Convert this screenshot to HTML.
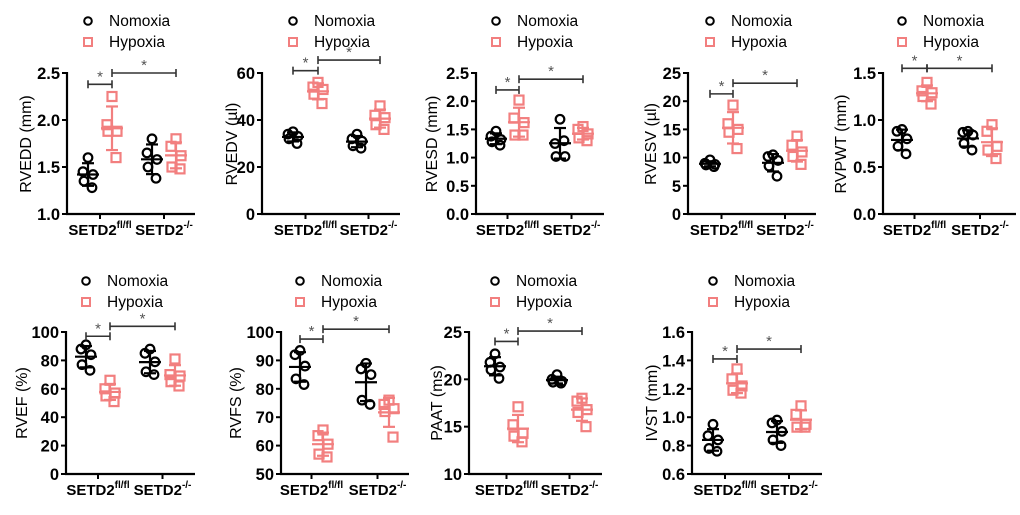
<!DOCTYPE html>
<html><head><meta charset="utf-8"><style>
body{margin:0;background:#fff;}
svg{display:block;font-family:"Liberation Sans",Arial,sans-serif;}
</style></head><body>
<svg id="fig" width="1020" height="515" viewBox="0 0 1020 515" xmlns="http://www.w3.org/2000/svg"></svg>
<script>
// ---- data ----
const titles = ["RVEDD (mm)","RVEDV (\u00b5l)","RVESD (mm)","RVESV (\u00b5l)","RVPWT (mm)","RVEF (%)","RVFS (%)","PAAT (ms)","IVST (mm)"];
const groupLabels = ["SETD2","SETD2"];
const groupSups = ["fl/fl","-/-"];
const legendLabels = ["Nomoxia","Hypoxia"];
const yMins = [1.0,0,0,0,0,0,50,10,0.6];
const yMaxs = [2.5,60,2.5,25,1.5,100,100,25,1.6];
const ySteps = [0.5,20,0.5,5,0.5,20,10,5,0.2];
const yDecimals = [1,0,1,0,1,0,0,0,1];
// Nomoxia SETD2 fl/fl, Hypoxia fl/fl, Nomoxia -/-, Hypoxia -/-
const normFl = [[1.60,1.45,1.42,1.35,1.28],[35,34,33,32,30],[1.47,1.38,1.32,1.28,1.22],[9.6,9.0,8.8,8.7,8.4],[0.90,0.88,0.80,0.72,0.64],[91,88,84,77,73],[93.5,92,88,83.5,81.5],[22.7,21.8,21.3,21.0,20.1],[0.95,0.87,0.84,0.78,0.76]];
const hypFl = [[2.25,1.95,1.88,1.88,1.60],[56,54,53,51,47],[2.02,1.70,1.62,1.40,1.40],[19.3,16.0,15.0,14.5,11.6],[1.40,1.31,1.29,1.25,1.17],[66,60,57,55,51],[65.5,63.5,60.5,57,56],[17.1,15.2,14.3,14.0,13.4],[1.34,1.27,1.22,1.19,1.17]];
const normKo = [[1.80,1.65,1.58,1.50,1.38],[34,32,31,29,28],[1.68,1.25,1.02,1.02,1.30],[10.5,10.2,9.5,8.5,6.7],[0.88,0.87,0.84,0.75,0.68],[88,85,79,72,70],[89,87,85,76,74.5],[20.5,20.0,19.8,19.7,19.6],[0.98,0.96,0.90,0.84,0.80]];
const hypKo = [[1.80,1.72,1.62,1.50,1.48],[46,42,41,38,36],[1.55,1.50,1.42,1.35,1.30],[13.8,12.2,11.0,10.2,8.8],[0.95,0.88,0.72,0.68,0.59],[81,70,69,65,62],[76,74.5,73,72,63],[18.0,17.7,16.8,16.5,15.0],[1.08,1.02,0.95,0.93,0.93]];
const sigLow = [2.38,61,2.2,21.3,1.55,97,97.5,24.0,1.41];
const sigHigh = [2.5,65.5,2.39,23.2,1.55,104,101,25.1,1.48];

// ---- layout ----
const panels = [
 {ax:67,end:195,top:73,bot:214,xs:[88,112,152,176],lab:25,row:0},
 {ax:262,end:400,top:73,bot:214,xs:[293,318,357,380],lab:231,row:0},
 {ax:476,end:604,top:73,bot:214,xs:[496,519,560,583],lab:431,row:0},
 {ax:688,end:816,top:73,bot:214,xs:[710,733,773,797],lab:650,row:0},
 {ax:883,end:1016,top:73,bot:214,xs:[902,927,968,992],lab:840,row:0},
 {ax:66,end:195,top:332,bot:474,xs:[86,110,150,175],lab:21,row:1},
 {ax:281,end:409,top:332,bot:474,xs:[300,323,366,389],lab:235,row:1},
 {ax:469,end:602,top:332,bot:474,xs:[495,518,557,582],lab:436,row:1},
 {ax:692,end:822,top:332,bot:474,xs:[713,737,777,801],lab:651,row:1}
];
const PINK="#f27f7f";
const jit=[0,-5,5,-4,4];
const svg=document.getElementById('fig');
const NS="http://www.w3.org/2000/svg";
function mk(tag,attrs,parent){const e=document.createElementNS(NS,tag);for(const k in attrs)e.setAttribute(k,attrs[k]);(parent||svg).appendChild(e);return e;}
function mean(a){return a.reduce((s,v)=>s+v,0)/a.length;}
function sd(a){const m=mean(a);return Math.sqrt(a.reduce((s,v)=>s+(v-m)*(v-m),0)/(a.length-1));}

panels.forEach((p,i)=>{
  const g=mk('g',{});
  
  
  const y=v=>p.bot-(v-yMins[i])/(yMaxs[i]-yMins[i])*(p.bot-p.top);
  // legend
  const ly=p.row===0?[21,42]:[281,302];
  const lx=p.xs[0];
  const lg=mk('g',{},g);
  
  
  const lc=mk('circle',{cx:lx,cy:ly[0],r:3.8,fill:'none',stroke:'#000','stroke-width':2},lg);
  
  
  const lt1=mk('text',{x:lx+21,y:ly[0]+5,'font-size':15.5,fill:'#000'},lg);lt1.textContent=legendLabels[0];
  
  
  const ls=mk('rect',{x:lx-4,y:ly[1]-4,width:8,height:8,fill:'none',stroke:PINK,'stroke-width':2},lg);
  
  
  const lt2=mk('text',{x:lx+21,y:ly[1]+5,'font-size':15.5,fill:'#000'},lg);lt2.textContent=legendLabels[1];
  
  
  // axes
  const yax=mk('line',{x1:p.ax,y1:p.top-1,x2:p.ax,y2:p.bot+1,stroke:'#000','stroke-width':2.2},g);
  
  
  const xax=mk('line',{x1:p.ax-1,y1:p.bot,x2:p.end,y2:p.bot,stroke:'#000','stroke-width':2.2},g);
  
  
  for(let v=yMins[i];v<=yMaxs[i]+1e-9;v+=ySteps[i]){
    const yy=y(v);
    mk('line',{x1:p.ax-5,y1:yy,x2:p.ax,y2:yy,stroke:'#000','stroke-width':2},g);
    const t=mk('text',{x:p.ax-7,y:yy+6,'font-size':16.5,'font-weight':'bold','text-anchor':'end',fill:'#000'},g);
    t.textContent=v.toFixed(yDecimals[i]);
    
    
  }
  // y title
  const cy=p.row===0?144:403;
  const bx=p.lab+6;
  const yt=mk('text',{x:bx,y:cy,'font-size':16,'text-anchor':'middle',fill:'#000',transform:`rotate(-90 ${bx} ${cy})`},g);
  yt.textContent=titles[i];
  
  
  // groups
  [0,1].forEach(k=>{
    const gx=(p.xs[2*k]+p.xs[2*k+1])/2;
    mk('line',{x1:gx,y1:p.bot,x2:gx,y2:p.bot+5,stroke:'#000','stroke-width':2},g);
    const t=mk('text',{x:gx,y:p.bot+21,'font-size':15,'font-weight':'bold','text-anchor':'middle',fill:'#000'},g);
    
    
    const a=mk('tspan',{},t);a.textContent=groupLabels[k];
    const b=mk('tspan',{dy:-7,'font-size':10},t);b.textContent=groupSups[k];
  });
  // series
  const series=[normFl[i],hypFl[i],normKo[i],hypKo[i]];
  series.forEach((arr,s)=>{
    const pink=s%2===1;
    const col=pink?PINK:'#000';
    const x0=p.xs[s];
    const sg=mk('g',{},g);
    
    
    arr.forEach((v,j)=>{
      const px=x0+jit[j],py=y(v);
      let el;
      if(pink) el=mk('rect',{x:px-4.5,y:py-4.5,width:9,height:9,fill:'none',stroke:col,'stroke-width':2.2},sg);
      else el=mk('circle',{cx:px,cy:py,r:4.3,fill:'none',stroke:col,'stroke-width':2.2},sg);
      
      
    });
    const m=mean(arr),d=sd(arr);
    const eb=mk('g',{stroke:col,'stroke-width':2.2,fill:'none'},g);
    
    
    mk('line',{x1:x0-11,y1:y(m),x2:x0+11,y2:y(m)},eb);
    mk('line',{x1:x0,y1:y(m-d),x2:x0,y2:y(m+d)},eb);
    mk('line',{x1:x0-6,y1:y(m+d),x2:x0+6,y2:y(m+d)},eb);
    mk('line',{x1:x0-6,y1:y(m-d),x2:x0+6,y2:y(m-d)},eb);
  });
  // significance brackets
  const br=[[p.xs[0],p.xs[1],sigLow[i]],[p.xs[1],p.xs[3],sigHigh[i]]];
  br.forEach(b=>{
    const bg=mk('g',{stroke:'#333','stroke-width':1.6},g);
    
    
    const yy=y(b[2]);
    mk('line',{x1:b[0],y1:yy,x2:b[1],y2:yy},bg);
    mk('line',{x1:b[0],y1:yy-4,x2:b[0],y2:yy+4},bg);
    mk('line',{x1:b[1],y1:yy-4,x2:b[1],y2:yy+4},bg);
    const t=mk('text',{x:(b[0]+b[1])/2,y:yy-3,'font-size':15,'text-anchor':'middle',fill:'#555'},g);
    t.textContent='*';
    
    
  });
});
</script>
</body></html>
